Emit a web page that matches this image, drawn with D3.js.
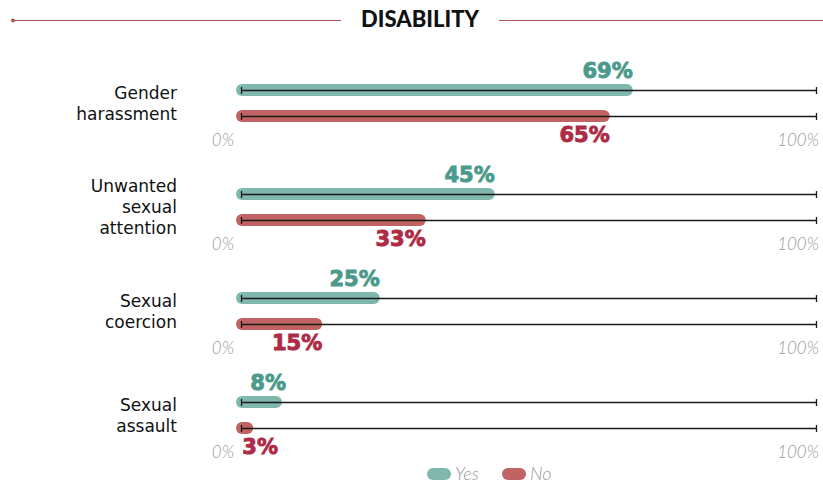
<!DOCTYPE html>
<html>
<head>
<meta charset="utf-8">
<script src="https://cdn.jsdelivr.net/npm/d3@7"></script>
<style>
  body { margin: 0; background: #fff; }
</style>
</head>
<body>
<div id="chart"></div>
<script>
// Chart data
var categories = [["Gender", "harassment"], ["Unwanted", "sexual", "attention"], ["Sexual", "coercion"], ["Sexual", "assault"]];
var seriesNames = ["Yes", "No"];
var yesValues = [69, 45, 25, 8];
var noValues = [65, 33, 15, 3];
var tickLabels = ["0%", "100%"];

var width = 823, height = 484;
var yesBar = "#80b7ac", noBar = "#c06362";
var yesText = "#4b9a8b", noText = "#ad2b45";

var svg = d3.select("#chart").append("svg")
  .attr("width", width)
  .attr("height", height);

// Title with side rules
svg.append("line").attr("x1", 13).attr("x2", 341).attr("y1", 20.5).attr("y2", 20.5)
  .attr("stroke", "#a9584a").attr("stroke-width", 1);
svg.append("circle").attr("cx", 13).attr("cy", 20.5).attr("r", 2).attr("fill", "#a9584a");
svg.append("line").attr("x1", 499).attr("x2", 823).attr("y1", 20.5).attr("y2", 20.5)
  .attr("stroke", "#a9584a").attr("stroke-width", 1);
svg.append("text")
  .attr("x", 420).attr("y", 27)
  .attr("text-anchor", "middle")
  .style("font-family", "Lato, 'Open Sans', sans-serif")
  .style("font-weight", "900")
  .style("font-size", "22px")
  .style("fill", "#111")
  .text("DISABILITY");

// Scales
var x = d3.scaleLinear().domain([0, 100]).range([241, 816]);
var y = d3.scaleBand().domain(d3.range(categories.length)).range([53, 469]);
var sub = d3.scaleBand().domain(seriesNames).range([24, 76]);

function cyOf(name) { return sub(name) + sub.bandwidth() / 2; }

var groups = svg.selectAll(".group")
  .data(categories)
  .enter().append("g")
  .attr("class", "group")
  .attr("transform", function (d, i) { return "translate(0," + y(i) + ")"; });

// Category labels, one text per line
groups.each(function (lines) {
  var g = d3.select(this);
  var mid = (cyOf("Yes") + cyOf("No")) / 2;
  var lh = 21;
  var start = mid - (lines.length - 1) * lh / 2;
  g.selectAll(".cat")
    .data(lines)
    .enter().append("text")
    .attr("class", "cat")
    .attr("x", 177)
    .attr("y", function (l, j) { return start + j * lh + 6; })
    .attr("text-anchor", "end")
    .style("font-family", "'DejaVu Sans', sans-serif")
    .style("font-size", "17px")
    .style("fill", "#111")
    .text(function (l) { return l; });
});

// Bars
function drawSeries(name, values, barColor, textColor) {
  groups.each(function (c, i) {
    var g = d3.select(this);
    var cy = cyOf(name);
    var v = values[i];
    var barW = Math.max(x(v) - x(0), 14);
    g.append("rect")
      .attr("x", x(0) - 5)
      .attr("y", cy - 6)
      .attr("width", barW)
      .attr("height", 12)
      .attr("rx", 6)
      .attr("fill", barColor);
    // axis line
    g.append("line").attr("x1", x(0)).attr("x2", x(100)).attr("y1", cy + 0.5).attr("y2", cy + 0.5)
      .attr("stroke", "#1a1a1a").attr("stroke-width", 1.3);
    [0, 100].forEach(function (t) {
      g.append("line").attr("x1", x(t) + 0.5).attr("x2", x(t) + 0.5).attr("y1", cy - 3).attr("y2", cy + 4)
        .attr("stroke", "#1a1a1a").attr("stroke-width", 1.3);
    });
    var end = x(0) - 5 + barW;
    g.append("text")
      .attr("x", name === "Yes" ? Math.max(end, x(0) + 45) : Math.max(end, x(0) + 37))
      .attr("y", name === "Yes" ? cy - 12 : cy + 26)
      .attr("text-anchor", "end")
      .style("font-family", "'DejaVu Sans', sans-serif")
      .style("font-weight", "bold")
      .style("font-size", "21px")
      .style("fill", textColor)
      .style("stroke", textColor)
      .style("stroke-width", "0.9px")
      .text(v + "%");
  });
}
drawSeries("Yes", yesValues, yesBar, yesText);
drawSeries("No", noValues, noBar, noText);

// 0% / 100% labels
groups.each(function () {
  var g = d3.select(this);
  var ty = cyOf("No") + 30;
  g.append("text").attr("x", 234).attr("y", ty).attr("text-anchor", "end")
    .style("font-family", "Lato, sans-serif").style("font-style", "italic").style("font-weight", "300")
    .style("font-size", "17px").style("fill", "#9a9a9a").text(tickLabels[0]);
  g.append("text").attr("x", 819).attr("y", ty).attr("text-anchor", "end")
    .style("font-family", "Lato, sans-serif").style("font-style", "italic").style("font-weight", "300")
    .style("font-size", "17px").style("fill", "#9a9a9a").text(tickLabels[1]);
});

// Legend
var legend = svg.selectAll(".legend")
  .data(seriesNames)
  .enter().append("g")
  .attr("class", "legend")
  .attr("transform", function (d, i) { return "translate(" + (427 + i * 75) + ",474)"; });
legend.append("rect")
  .attr("x", 0).attr("y", -6).attr("width", 24).attr("height", 12).attr("rx", 6)
  .attr("fill", function (d, i) { return i === 0 ? yesBar : noBar; });
legend.append("text")
  .attr("x", 28).attr("y", 6)
  .style("font-family", "Lato, sans-serif").style("font-style", "italic").style("font-weight", "300")
  .style("font-size", "18px").style("fill", "#999")
  .text(function (d) { return d; });
</script>
</body>
</html>
